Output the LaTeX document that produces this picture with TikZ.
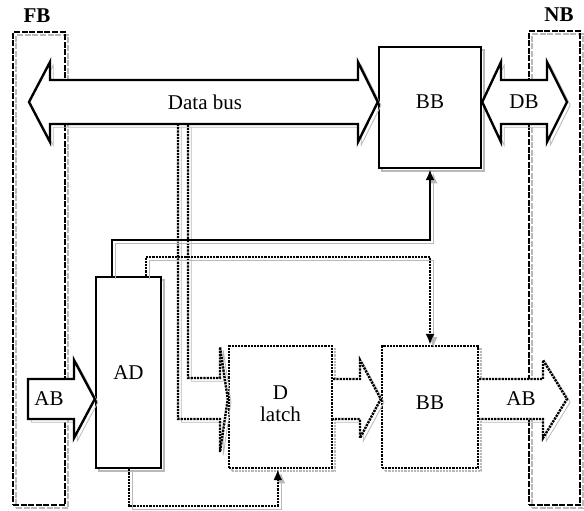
\documentclass[tikz,border=0pt]{standalone}
\usepackage{fontspec}
\setmainfont{Liberation Serif}
\usetikzlibrary{arrows.meta, calc}

\begin{document}
\begin{tikzpicture}[x=0.5pt, y=-0.5pt,
				>={Latex[length=5.5pt,width=4.5pt]},   %arrow tips
				font=\fontsize{10.5}{11}\selectfont,
				shade/.style={preaction={draw=gray!55, transform canvas={shift={(1.6pt,-1.6pt)}}}},
				busbox/.style={shade, draw, line width=1.2pt, dash pattern=on 3pt off 0.8pt},
				box/.style={shade, draw, fill=white, line width=1.2pt, align=center},
				dotbox/.style={box, dash pattern=on 1.1pt off 0.5pt},
				fat/.style={shade, draw, fill=white, line width=1.2pt},
				dotfat/.style={fat, dash pattern=on 1.1pt off 0.5pt},
				wire/.style={shade, draw, line width=1.2pt},
				dotwire/.style={wire, dash pattern=on 1.1pt off 0.5pt}]
				\useasboundingbox (0,0) rectangle (584,510);
				% FB and NB
				\node[busbox, minimum width=26pt, minimum height=236.5pt] (fb) at (39,268.5) {};
				\node[busbox, minimum width=25.5pt, minimum height=237pt] (nb) at (554.5,268) {};
				\node[font=\bfseries\fontsize{10.5}{11}\selectfont] (fblabel) at (37,16) {FB};
				\node[font=\bfseries\fontsize{10.5}{11}\selectfont] (nblabel) at (559,15) {NB};
				% boxes
				\node[box, minimum width=51pt, minimum height=60.5pt] (bbtop) at (430,107.5) {\raisebox{6pt}{BB}};
				\node[box, minimum width=32.5pt, minimum height=95.5pt] (ad) at (128.5,372.5) {AD};
				\node[dotbox, minimum width=51.5pt, minimum height=61pt] (latch) at (280.5,407) {\raisebox{3pt}{D}\\\raisebox{3pt}{latch}};
				\node[dotbox, minimum width=48pt, minimum height=61pt] (bblow) at (430,407) {\raisebox{4pt}{BB}};
				% fat arrows
				\draw[fat] (29,102) -- (50,62) -- (50,80) -- (358,80) -- (358,62) -- (bbtop.west |- 0,102) -- (358,142) -- (358,124) -- (50,124) -- (50,142) -- cycle;
				\node (databus) at (205,102) {Data bus};
				\draw[fat] (bbtop.east |- 0,102) -- (501,62) -- (501,80) -- (547,80) -- (547,62) -- (567,102) -- (547,142) -- (547,124) -- (501,124) -- (501,142) -- cycle;
				\node (dblabel) at (524,102) {DB};
				\draw[fat] (28,379) -- (74,379) -- (74,360) -- (ad.west |- 0,399) -- (74,438) -- (74,419) -- (28,419) -- cycle;
				\node (abin) at (49,399) {AB};
				\draw[dotfat] (latch.east |- 0,379) -- (360,379) -- (360,360) -- (bblow.west |- 0,399) -- (360,438) -- (360,419) -- (latch.east |- 0,419);
				\draw[dotfat] (bblow.east |- 0,379) -- (543,379) -- (543,360) -- (567,399) -- (543,438) -- (543,419) -- (bblow.east |- 0,419);
				\node (about) at (521,399) {AB};
				% bus to latch
				\draw[dotwire] (178,124) -- (178,419) -- (220,419) -- (220,452) -- (latch.west |- 0,399) -- (220,347) -- (220,378) -- (188,378) -- (188,124);
				% control lines
				\draw[wire, ->] ($(ad.north west)+(17,0)$) -- ++(0,-36) -| (bbtop.south);
				\draw[dotwire, ->] ($(ad.north west)+(51,0)$) -- ++(0,-19) -| (bblow.north);
				\draw[dotwire, ->] ($(ad.south west)+(34,0)$) -- ++(0,37) -| ($(latch.south west)+(50,0)$);
			\end{tikzpicture}
\end{document}
